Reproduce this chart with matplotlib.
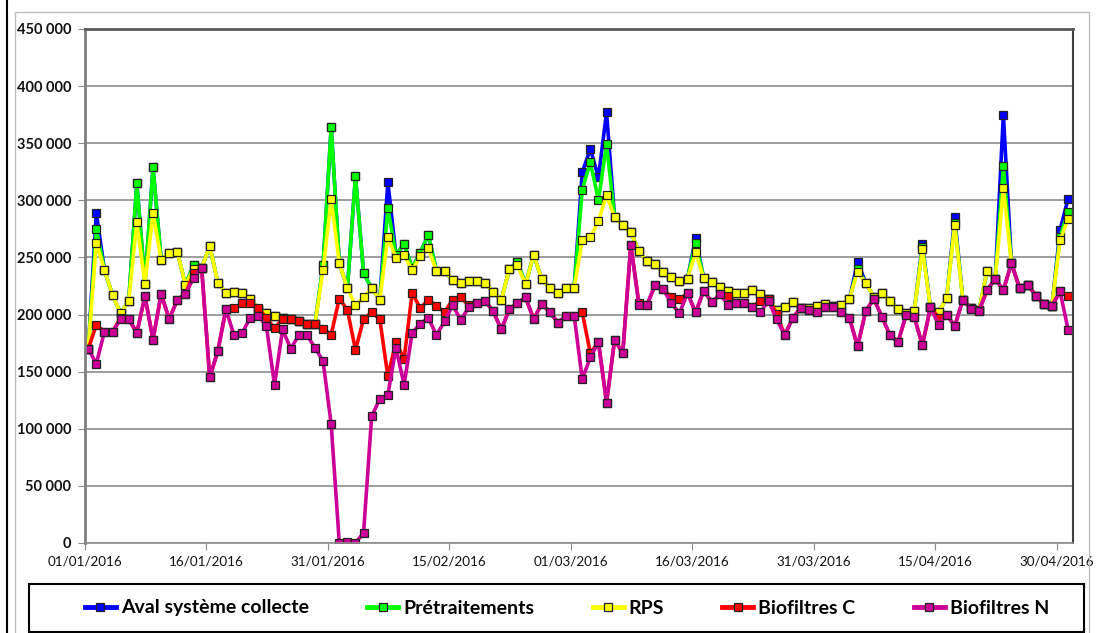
import matplotlib
matplotlib.use("Agg")
import matplotlib.pyplot as plt
import numpy as np
from matplotlib.lines import Line2D
from matplotlib.patches import Rectangle

plt.rcParams['font.family'] = ['Lato', 'DejaVu Sans']

# daily values, 01/01/2016 -> 01/05/2016, in thousands
rps = [170, 263, 239, 217, 201, 212, 281, 227, 289, 248,
       254, 255, 226, 240, 241, 260, 228, 219, 220, 219,
       214, 205, 201, 199, 197, 196, 194, 192, 192, 239,
       301, 245, 223, 208, 215, 223, 213, 268, 249.5, 252,
       239, 251, 258, 238, 238, 230, 228, 229, 229, 227.5,
       220, 212.5, 240, 243, 226.5, 252.5, 231, 223, 219, 223,
       223, 265, 267.5, 282, 304.5, 285, 278, 272, 255.5, 246.5,
       244, 237, 233, 229.7, 231.5, 254.4, 231.8, 228.8, 223.8, 220.6,
       218.5, 218.5, 221.8, 217.9, 213.8, 203.8, 206.8, 210.6, 205.9, 206,
       207.6, 209, 207.5, 208.2, 213.8, 237.6, 227.6, 215.6, 218.8, 212.1,
       204.7, 201, 203.2, 257.3, 206.2, 201.8, 214.7, 278.2, 212.9, 205.9,
       203.8, 238.5, 231, 311, 244.8, 223.3, 226.2, 216.6, 209.3, 207.3,
       265.1, 284]

pretraitements = [170, 275, 239, 217, 201, 212, 315, 227, 329, 248,
                  254, 255, 226, 243, 241, 260, 228, 219, 220, 219,
                  214, 205, 201, 199, 197, 196, 194, 192, 192, 243,
                  364.5, 245, 223, 321, 236, 223, 213, 293, 252, 262,
                  241, 254, 270, 238, 238, 230, 228, 229, 229, 227.5,
                  220, 212.5, 240, 246, 226.5, 252.5, 231, 223, 219, 223,
                  223, 309, 333.5, 300, 349, 285, 278, 272, 255.5, 246.5,
                  244, 237, 233, 229.7, 231.5, 263, 231.8, 228.8, 223.8, 220.6,
                  218.5, 218.5, 221.8, 217.9, 213.8, 203.8, 206.8, 210.6, 205.9, 206,
                  207.6, 209, 207.5, 208.2, 213.8, 240, 227.6, 215.6, 218.8, 212.1,
                  204.7, 201, 203.2, 259, 206.2, 201.8, 214.7, 280, 212.9, 205.9,
                  203.8, 238.5, 231, 330, 244.8, 223.3, 226.2, 216.6, 209.3, 207.3,
                  268, 290]

aval = [170, 289, 239, 217, 201, 212, 315, 227, 329, 248,
        254, 255, 226, 243, 241, 260, 228, 219, 220, 219,
        214, 205, 201, 199, 197, 196, 194, 192, 192, 243,
        364.5, 245, 223, 321, 236, 223, 213, 316, 252, 262,
        241, 254, 270, 238, 238, 230, 228, 229, 229, 227.5,
        220, 212.5, 240, 246, 226.5, 252.5, 231, 223, 219, 223,
        223, 324.5, 345, 320, 377, 285, 278, 272, 255.5, 246.5,
        244, 237, 233, 229.7, 231.5, 267, 231.8, 228.8, 223.8, 220.6,
        218.5, 218.5, 221.8, 217.9, 213.8, 203.8, 206.8, 210.6, 205.9, 206,
        207.6, 209, 207.5, 208.2, 213.8, 246.2, 227.6, 215.6, 218.8, 212.1,
        204.7, 201, 203.2, 261.7, 206.2, 201.8, 214.7, 285, 212.9, 205.9,
        203.8, 238.5, 231, 375, 244.8, 223.3, 226.2, 216.6, 209.3, 207.3,
        274.1, 301.5]

bio_c = [170, 191, 185, 185, 197, 196, 184, 216, 178, 218,
         196, 213, 218, 236, 241, 145, 168, 204.5, 205.5, 210,
         210.5, 206, 197, 188, 196, 196, 194, 192, 192, 187.5,
         182.5, 214, 204, 169, 196, 202, 196, 146, 176, 161,
         219, 205.5, 213, 207.5, 202, 213, 215, 208, 210.5, 212,
         203, 187, 204.5, 210, 215, 196, 209.5, 202, 193, 199,
         199, 202, 166, 176, 123, 178, 166, 261, 210, 208.5,
         226, 222, 215.6, 213.2, 218.8, 201.8, 220.9, 210.9, 217.6, 216.2,
         210, 209.7, 206.8, 212, 213.8, 200.9, 182, 197.1, 205.9, 204.4,
         201.8, 206.8, 207, 202.6, 196.8, 172.1, 202.9, 213.8, 198.2, 182,
         175.9, 200, 197.9, 173.2, 206.2, 197.4, 200, 190, 212.9, 205.5,
         203.5, 221.5, 231.1, 221.5, 244.8, 223.3, 226.2, 216.6, 209.3, 207.3,
         220.3, 216.3]

bio_n = [170, 157, 185, 185, 196, 196, 184, 216, 178, 218,
         196, 213, 218, 232, 241, 145, 168, 204.5, 182, 184,
         197, 199, 190, 138.5, 187, 170, 182, 182, 171, 159,
         104, 0, 1, 0, 9, 111, 126, 130, 171, 138.5,
         184, 192, 197, 182, 194, 208.5, 195, 206.5, 210.5, 212,
         203, 187, 204.5, 210, 215, 196, 209.5, 202, 193, 199,
         199, 143.5, 162.5, 176, 123, 178, 166, 261, 208, 208.5,
         226, 222, 210, 201, 218.8, 201.8, 220.9, 210.9, 217.6, 208.8,
         210, 209.7, 206.8, 202, 212, 195.9, 182, 197.1, 205.9, 204.4,
         201.8, 206.8, 206.8, 202.6, 196.8, 172.1, 202.9, 213.8, 198.2, 182,
         175.9, 200, 197.9, 173.2, 206.2, 191.2, 200, 190, 212.9, 205.2,
         203.5, 221.5, 231.1, 221.5, 244.8, 223.3, 226.2, 216.6, 209.3, 207.3,
         220.3, 186.6]

series_names = ['Aval système collecte', 'Prétraitements', 'RPS', 'Biofiltres C', 'Biofiltres N']
series_colors = ['#0000FF', '#00FF00', '#FFFF00', '#FF0000', '#CC0099']
date_labels = ['01/01/2016', '16/01/2016', '31/01/2016', '15/02/2016', '01/03/2016',
               '16/03/2016', '31/03/2016', '15/04/2016', '30/04/2016']

fig = plt.figure(figsize=(10.99, 6.33), dpi=100)
W, H = 1099, 633
ax = fig.add_axes([85 / W, 1 - 543 / H, (1073 - 85) / W, (543 - 29) / H])

days = np.arange(len(rps)) + 0.4
all_series = [aval, pretraitements, rps, bio_c, bio_n]
for vals, name, col in zip(all_series, series_names, series_colors):
    ax.plot(days, vals, color=col, lw=2.6, marker='s', ms=5.2,
            mfc=col, mec='#222222', mew=0.9, label=name)

ax.set_xlim(0, 122)
ax.set_ylim(0, 450)
ax.set_xticks(np.arange(0, 121, 15))
ax.set_xticklabels(date_labels)
ax.set_yticks(np.arange(0, 451, 50))
ax.set_yticklabels([f"{int(v * 1000):,}".replace(",", " ") for v in np.arange(0, 451, 50)],
                   fontweight='bold')
ax.grid(axis='y', color='#8c8c8c', lw=1.2)
ax.set_axisbelow(True)
ax.tick_params(axis='y', length=5, color='#8c8c8c', labelsize=10.5, pad=5, labelcolor='#111111')
ax.tick_params(axis='x', length=5, color='#8c8c8c', labelsize=9.7, pad=4, labelcolor='#111111')
ax.spines['left'].set_color('#7f7f7f')
ax.spines['left'].set_linewidth(2)
ax.spines['top'].set_color('#595959')
ax.spines['top'].set_linewidth(2)
ax.spines['right'].set_color('#404040')
ax.spines['right'].set_linewidth(1.5)
ax.spines['bottom'].set_color('#8c8c8c')
ax.spines['bottom'].set_linewidth(1.2)

# frame lines of the sheet
fig.add_artist(Line2D([6.5 / W, 6.5 / W], [0, 1], color='black', lw=1.5))
fig.add_artist(Rectangle((15 / W, -0.01), (1089 - 15) / W, 1 - 12 / H + 0.01,
                         fill=False, ec='#bfbfbf', lw=1))
# legend box
fig.add_artist(Rectangle((29 / W, 1 - 632 / H), (1084 - 29) / W, 48 / H,
                         fill=False, ec='black', lw=1.5))

handles = [Line2D([], [], color=c, lw=3.5, marker='s', ms=6, mfc=c, mec='#222222', mew=0.9)
           for c in series_colors]
leg = fig.legend(handles, series_names, loc='center', bbox_to_anchor=(567 / W, 1 - 608 / H),
                 ncol=5, frameon=False, prop={'weight': 'bold', 'size': 14},
                 handlelength=1.6, handletextpad=0.25, columnspacing=3.0, borderpad=0)

fig.savefig('out.png', dpi=100)
